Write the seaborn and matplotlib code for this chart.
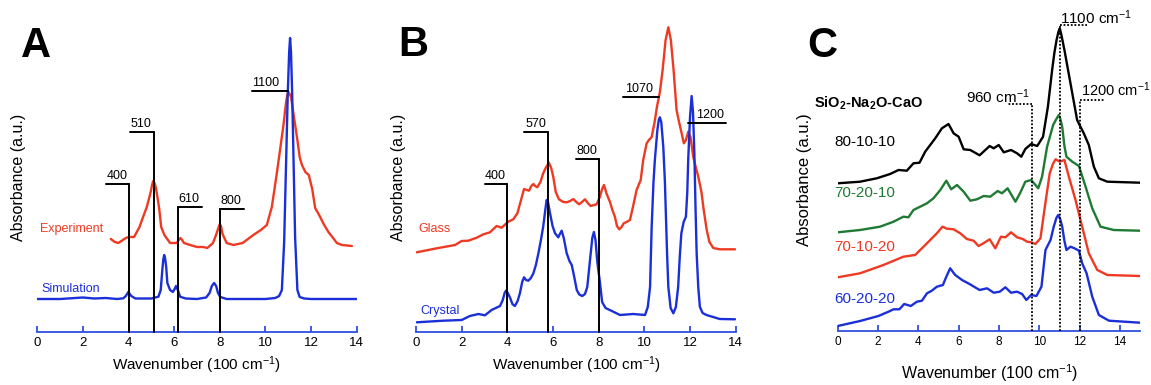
import matplotlib
matplotlib.use("Agg")
import matplotlib.pyplot as plt
import pandas as pd
import seaborn as sns

# ---------------------------------------------------------------- data
# Panel A: computed vs. measured IR absorbance (wavenumber in 100 cm-1)
a_sim_x = [0.0, 1.0, 2.0, 2.5, 3.0, 3.5, 3.77, 3.88, 3.99, 4.12, 4.3, 5.0, 5.31, 5.41,
           5.48, 5.52, 5.56, 5.6, 5.65, 5.7, 5.82, 5.94, 6.02, 6.08, 6.16, 6.26, 6.5,
           7.0, 7.4, 7.55, 7.65, 7.75, 7.84, 7.92, 8.02, 8.3, 9.0, 10.0, 10.43, 10.6,
           10.72, 10.82, 10.91, 10.98, 11.04, 11.08, 11.12, 11.17, 11.23, 11.3, 11.4,
           11.5, 11.7, 12.0, 13.0, 14.0]
a_sim_y = [33, 33, 34.5, 33.5, 34, 33, 33.7, 36, 40, 36, 33.5, 33.5, 35.3, 42,
           62, 72, 77, 74, 65, 49, 42, 40, 43, 46, 42, 35.3, 33.5,
           33, 34.5, 39, 46, 49, 46, 39, 35, 33, 33, 33, 34, 36,
           42, 90, 174, 240, 280, 294, 280, 240, 174, 95, 42,
           35, 33.5, 33, 33, 33]
a_exp_x = [3.22, 3.4, 3.55, 3.75, 3.88, 4.0, 4.24, 4.48, 4.62, 4.8, 4.97, 5.03, 5.08,
           5.14, 5.2, 5.28, 5.35, 5.43, 5.57, 5.82, 6.11, 6.2, 6.27, 6.35, 6.43, 6.7,
           7.0, 7.28, 7.45, 7.7, 7.85, 7.95, 8.0, 8.05, 8.12, 8.3, 8.6, 9.0, 9.47, 9.8,
           10.06, 10.28, 10.5, 10.64, 10.79, 10.9, 10.96, 11.01, 11.06, 11.12, 11.25,
           11.4, 11.5, 11.6, 11.75, 11.9, 12.05, 12.18, 12.4, 12.55, 12.76, 13.0,
           13.13, 13.35, 13.79]
a_exp_y = [93, 90, 89, 92, 94, 95, 95, 105, 114, 125, 140, 147, 151,
           149, 144, 133, 122, 105, 97, 89, 89, 92, 94, 92, 89, 87,
           85, 85, 84, 89, 98, 105, 108, 106, 98, 89, 87, 89, 97, 102,
           107, 125, 159, 182, 207, 229, 237, 240, 238, 235, 215,
           192, 175, 167, 160, 157, 143, 124, 115, 108, 100, 93,
           89, 87, 86]

# Panel B: crystalline vs. glassy spectrum
b_crystal_x = [0.03, 1.2, 2.0, 2.36, 2.73, 3.02, 3.31, 3.68, 3.8, 3.88, 3.94, 4.02,
               4.12, 4.22, 4.33, 4.45, 4.55, 4.65, 4.73, 4.82, 4.92, 5.03, 5.14, 5.25,
               5.36, 5.47, 5.57, 5.65, 5.72, 5.78, 5.87, 5.98, 6.09, 6.23, 6.3, 6.38,
               6.47, 6.6, 6.72, 6.82, 6.93, 7.04, 7.15, 7.28, 7.4, 7.5, 7.62, 7.72,
               7.79, 7.86, 7.94, 8.06, 8.15, 8.3, 8.64, 8.93, 9.51, 10.03, 10.15,
               10.25, 10.32, 10.4, 10.46, 10.57, 10.63, 10.68, 10.74, 10.83, 10.9,
               10.95, 11.0, 11.05, 11.15, 11.27, 11.38, 11.48, 11.55, 11.62, 11.72,
               11.82, 11.88, 11.92, 12.0, 12.07, 12.13, 12.19, 12.24, 12.29, 12.36,
               12.43, 12.55, 12.72, 13.3, 13.97]
b_crystal_y = [9.7, 11.3, 12, 16, 18, 16.7, 22, 26, 32, 39, 41.3, 39,
               34.3, 28, 26, 31, 38.7, 50, 54.7, 52, 51.3, 54, 58.7, 67,
               78.7, 92, 105.3, 120, 132, 130, 118.7, 106, 98.7, 94.7, 98, 101.3,
               94, 78.7, 71, 67, 55, 42, 37.5, 36, 38, 45, 72, 94,
               100, 92, 70, 48.7, 30, 24, 20.3, 17, 18, 17, 25,
               45, 105, 150, 172, 202, 212, 214.7, 210, 185, 150,
               112, 75, 45, 24, 18.7, 25, 45, 75, 98.7, 110,
               115.3, 140, 172, 215, 236, 220, 178.7, 125, 78.7, 45,
               25.3, 19, 17, 13, 12.7]
b_glass_x = [0.03, 0.91, 1.71, 2.0, 2.29, 2.66, 2.95, 3.24, 3.53, 3.75, 4.04, 4.26,
             4.44, 4.6, 4.73, 4.85, 4.95, 5.05, 5.14, 5.22, 5.31, 5.45, 5.57, 5.7,
             5.82, 5.92, 6.01, 6.12, 6.26, 6.45, 6.6, 6.75, 6.89, 7.02, 7.14, 7.27,
             7.4, 7.52, 7.65, 7.8, 7.91, 8.05, 8.15, 8.23, 8.35, 8.49, 8.6, 8.71,
             8.8, 8.9, 9.0, 9.1, 9.22, 9.37, 9.5, 9.66, 9.84, 9.95, 10.1, 10.2,
             10.32, 10.45, 10.55, 10.68, 10.8, 10.93, 11.05, 11.16, 11.28, 11.41,
             11.5, 11.62, 11.73, 11.82, 11.92, 12.02, 12.14, 12.25, 12.36, 12.5,
             12.6, 12.73, 12.85, 13.02, 13.31, 13.97]
b_glass_y = [79.7, 83.7, 87, 91, 91.3, 94.3, 97.7, 99.7, 106, 104.3, 110.3, 112.7,
             118.7, 132, 143, 142, 141.3, 146, 148, 146, 144.7, 150, 158.7, 165,
             169.3, 164, 155.3, 140, 132.7, 130, 129.7, 131, 133, 130, 127.7, 130,
             132.7, 129, 126, 127, 127.7, 135, 143, 147, 138, 130.3, 122, 115.3,
             106, 102.7, 105, 108.7, 110, 112, 125, 142, 152, 172, 188.7, 192,
             195, 210, 225, 240, 262, 292, 304.7, 292, 262, 222,
             212, 200, 188.7, 192, 200.3, 195, 175.3, 165, 155.3, 140,
             122, 102, 90, 84, 82.7, 82.7]

# Panel C: SiO2-Na2O-CaO glasses, vertically offset spectra
c_8010_x = [0.0, 1.11, 1.94, 2.6, 3.02, 3.43, 3.76, 4.06, 4.34, 4.59, 4.84, 5.17, 5.5,
            5.75, 6.0, 6.25, 6.58, 7.04, 7.54, 7.74, 7.99, 8.24, 8.6, 8.9, 9.11, 9.31,
            9.6, 9.9, 10.19, 10.43, 10.64, 10.75, 10.86, 10.95, 11.02, 11.1, 11.25,
            11.55, 11.88, 12.21, 12.46, 12.71, 12.96, 13.38, 15.0]
c_8010_y = [147.7, 149.3, 152.7, 157, 161, 160.3, 167.7, 168.3, 179.3, 186, 192.7, 202.7, 207,
            197.7, 194.3, 181.7, 181, 175.7, 185, 182.7, 186, 178.7, 181, 177.7, 174.3, 182,
            187, 185, 194.3, 224.3, 261, 278, 291, 299, 302.7, 296, 281,
            247.7, 211, 197.7, 186, 164.3, 152.7, 149.3, 148.3]
c_7020_x = [0.0, 1.11, 2.1, 2.77, 3.26, 3.51, 3.76, 4.09, 4.43, 4.75, 5.09, 5.39, 5.63,
            5.92, 6.25, 6.58, 6.91, 7.24, 7.57, 7.94, 8.15, 8.43, 8.82, 9.06, 9.31, 9.6,
            9.95, 10.14, 10.39, 10.69, 10.85, 10.97, 11.05, 11.14, 11.25, 11.35, 11.64,
            11.97, 12.3, 12.63, 13.04, 13.7, 15.0]
c_7020_y = [98.7, 101, 104.3, 109.3, 114.3, 113.7, 121, 124.3, 127.7, 132.7, 141, 150.3, 141.7,
            146, 139.3, 130.3, 131.7, 135, 134.3, 140, 137.7, 142.7, 129.3, 138.3, 149.3, 151,
            142.7, 154.3, 184.3, 206, 212, 216, 212, 204.3, 185, 174.3, 169.3,
            165, 144.3, 122.7, 104.3, 101, 100.3]
c_7010_x = [0.0, 1.11, 2.27, 3.26, 3.84, 4.26, 4.59, 4.92, 5.2, 5.42, 5.75, 6.08, 6.41,
            6.74, 6.99, 7.28, 7.54, 7.82, 8.1, 8.32, 8.6, 8.9, 9.18, 9.4, 9.6, 9.81,
            10.06, 10.28, 10.52, 10.68, 10.81, 11.02, 11.25, 11.47, 11.8, 12.13, 12.46,
            12.88, 13.38, 15.0]
c_7010_y = [53.7, 57.7, 66, 74.3, 76, 84.3, 91, 97.7, 104.3, 102.3, 101.7, 97.7, 92,
            90.3, 85, 88.3, 91.7, 82.7, 94.3, 93.7, 98.7, 93.7, 92, 89.3, 88.7, 87,
            92.7, 124.3, 157.7, 167, 171.7, 169.3, 171, 154.3, 131, 104.3, 77.7,
            61, 56, 55]
c_6020_x = [0.0, 1.11, 2.02, 2.52, 2.77, 3.06, 3.3, 3.63, 3.93, 4.18, 4.43, 4.67, 4.92,
            5.22, 5.39, 5.58, 5.83, 6.17, 6.54, 7.04, 7.41, 7.74, 8.04, 8.32, 8.6, 8.9,
            9.15, 9.36, 9.6, 9.86, 10.11, 10.31, 10.56, 10.72, 10.85, 10.94, 11.04,
            11.14, 11.25, 11.35, 11.55, 11.75, 11.97, 12.13, 12.35, 12.63, 12.96,
            13.46, 15.0]
c_6020_y = [5, 10, 15, 19.3, 21.7, 21.7, 27, 25, 29.3, 30.3, 37.7, 40.3, 44.3,
            46, 54.3, 62.7, 56, 51, 47, 41, 42.7, 38.3, 39.3, 43.7, 38.3, 39.3,
            37, 31, 36, 35, 44.3, 81, 91, 104.3, 113, 116, 112,
            104.3, 90, 81, 84.3, 82.7, 80.3, 67.7, 57.7, 34.3, 16,
            10.3, 8.3]

c_series = ["80-10-10", "70-20-10", "70-10-20", "60-20-20"]

# assignment markers: (line x, bar height, bar far end, label, label x)
a_marks = [(4.0, 148, 3.0, "400", 3.02), (5.1, 200, 4.07, "510", 4.1),
           (6.15, 125, 7.2, "610", 6.18), (8.0, 123, 9.07, "800", 8.01),
           (None, 241, (9.43, 11.01), "1100", 9.43)]
b_marks = [(4.0, 148, 3.0, "400", 3.02), (5.77, 200, 4.74, "570", 4.8),
           (8.0, 173, 7.0, "800", 7.02), (None, 235, (9.08, 10.65), "1070", 9.15),
           (None, 209, (11.92, 13.56), "1200", 12.26)]
c_marks = [(9.65, 227, 8.4, r"960 cm$^{-1}$", 9.55, "right", 234, 11),
           (11.05, 306, 12.38, r"1100 cm$^{-1}$", 11.05, "left", 313, 11),
           (12.0, 231, 13.2, r"1200 cm$^{-1}$", 12.08, "left", 241.7, 10.5)]

# ---------------------------------------------------------------- style
sns.set_theme(style="white")
plt.rcParams["font.family"] = ["Liberation Sans", "DejaVu Sans"]
plt.rcParams["mathtext.fontset"] = "custom"
plt.rcParams["mathtext.rm"] = "Liberation Sans"
plt.rcParams["mathtext.it"] = "Liberation Sans:italic"
plt.rcParams["mathtext.bf"] = "Liberation Sans:bold"
plt.rcParams["text.color"] = "black"
plt.rcParams["axes.labelcolor"] = "black"

RED = "#ee3a22"
BLUE = "#1b2fd8"
GREEN = "#1f7a34"
AXIS_BLUE = "#2f4fe0"

W, H = 1151, 385
fig = plt.figure(figsize=(W / 100, H / 100), dpi=100)


def px_axes(x0, x1, ybase, ytop):
    return fig.add_axes([x0 / W, 1 - ybase / H, (x1 - x0) / W, (ybase - ytop) / H])


def ftext(px, py, s, **kw):
    fig.text(px / W, 1 - py / H, s, **kw)


def style_axis(ax, xmax, ymax, labelsize):
    ax.set_xlim(0, xmax)
    ax.set_ylim(0, ymax)
    ax.set_xticks(range(0, 15, 2))
    ax.set_yticks([])
    for s in ("top", "right", "left"):
        ax.spines[s].set_visible(False)
    ax.spines["bottom"].set_color(AXIS_BLUE)
    ax.spines["bottom"].set_linewidth(1.3)
    ax.tick_params(axis="x", direction="in", length=4.5, width=1.3, colors=AXIS_BLUE,
                   labelcolor="black", labelsize=labelsize, pad=3.5, bottom=True)
    ax.set_xlabel("")
    ax.set_ylabel("")
    ax.patch.set_alpha(0)


def draw_pair(ax, x1, y1, n1, x2, y2, n2):
    df = pd.concat([pd.DataFrame({"x": x1, "y": y1, "s": n1}),
                    pd.DataFrame({"x": x2, "y": y2, "s": n2})])
    sns.lineplot(data=df, x="x", y="y", hue="s", palette={n1: RED, n2: BLUE},
                 estimator=None, sort=False, legend=False, lw=1.7, ax=ax)


def draw_marks(ax, marks):
    for xv, h, far, label, lx in marks:
        if xv is None:
            ax.plot(far, [h, h], color="black", lw=1.4, zorder=5, clip_on=False)
        else:
            ax.plot([xv, xv], [0, h], color="black", lw=1.4, zorder=5, clip_on=False)
            ax.plot([min(xv, far), max(xv, far)], [h, h], color="black", lw=1.4,
                    zorder=5, clip_on=False)
        ax.text(lx, h + 8, label, fontsize=9, ha="left", va="center", zorder=6)


# ---------------------------------------------------------------- panel A
axA = px_axes(37.3, 356.7, 332, 5)
draw_pair(axA, a_exp_x, a_exp_y, "Experiment", a_sim_x, a_sim_y, "Simulation")
draw_marks(axA, a_marks)
style_axis(axA, 14, 327, 9.5)
ftext(71.7, 229.3, "Experiment", color=RED, fontsize=9, ha="center", va="center")
ftext(71.0, 289.3, "Simulation", color=BLUE, fontsize=9, ha="center", va="center")
ftext(196.5, 365, r"Wavenumber (100 cm$^{-1}$)", fontsize=11, ha="center", va="center")
ftext(19, 177, "Absorbance (a.u.)", fontsize=11.5, rotation=90, ha="center", va="center")
ftext(36, 46, "A", fontsize=30, fontweight="bold", ha="center", va="center")

# ---------------------------------------------------------------- panel B
axB = px_axes(416, 735.7, 332, 5)
draw_pair(axB, b_glass_x, b_glass_y, "Glass", b_crystal_x, b_crystal_y, "Crystal")
draw_marks(axB, b_marks)
style_axis(axB, 14, 327, 9.5)
ftext(434.7, 229.3, "Glass", color=RED, fontsize=9, ha="center", va="center")
ftext(440, 310.7, "Crystal", color=BLUE, fontsize=9, ha="center", va="center")
ftext(576, 365, r"Wavenumber (100 cm$^{-1}$)", fontsize=11, ha="center", va="center")
ftext(398, 177, "Absorbance (a.u.)", fontsize=11.5, rotation=90, ha="center", va="center")
ftext(413.5, 45, "B", fontsize=30, fontweight="bold", ha="center", va="center")

# ---------------------------------------------------------------- panel C
axC = px_axes(837.7, 1140, 331, 5)
c_colors = dict(zip(c_series, ["black", GREEN, RED, BLUE]))
dfC = pd.concat([
    pd.DataFrame({"x": xs, "y": ys, "s": name})
    for name, xs, ys in zip(c_series, [c_8010_x, c_7020_x, c_7010_x, c_6020_x],
                            [c_8010_y, c_7020_y, c_7010_y, c_6020_y])
])
sns.lineplot(data=dfC, x="x", y="y", hue="s", palette=c_colors, estimator=None,
             sort=False, legend=False, lw=1.7, ax=axC)
for xv, h, far, label, lx, ha, ly, fs in c_marks:
    axC.plot([xv, xv], [0, h], color="black", lw=1.3, ls=(0, (1, 1)), zorder=5,
             clip_on=False)
    axC.plot([xv, far], [h, h], color="black", lw=1.3, ls=(0, (1, 1)), zorder=5,
             clip_on=False)
    axC.text(lx, ly, label, fontsize=fs, ha=ha, va="center", zorder=6)
style_axis(axC, 15, 326, 8.5)
ftext(868.3, 103.3, r"SiO$_\mathbf{2}$-Na$_\mathbf{2}$O-CaO", fontsize=10.5,
      fontweight="bold", ha="center", va="center")
for name, yy in zip(c_series, [141.7, 193.3, 246.7, 299]):
    ftext(865, yy, name, color=c_colors[name], fontsize=11, ha="center", va="center")
ftext(989.3, 373, r"Wavenumber (100 cm$^{-1}$)", fontsize=11.5, ha="center", va="center")
ftext(805, 180, "Absorbance (a.u.)", fontsize=12, rotation=90, ha="center", va="center")
ftext(822.5, 46, "C", fontsize=30, fontweight="bold", ha="center", va="center")

fig.savefig("out.png", dpi=100)
